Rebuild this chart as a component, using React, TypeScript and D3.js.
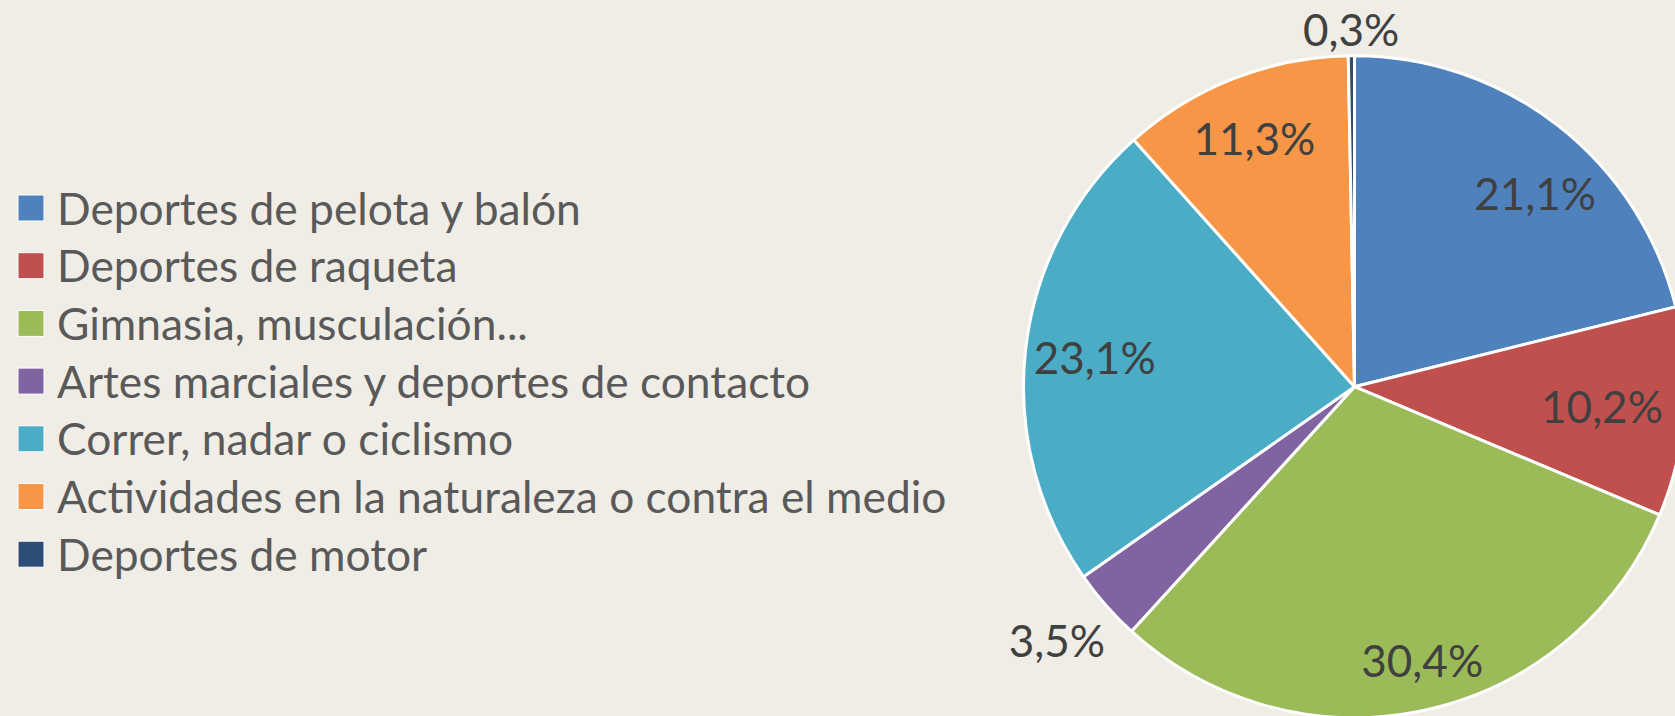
import React from "react";
import * as d3 from "d3";

const categories = [
  "Deportes de pelota y balón",
  "Deportes de raqueta",
  "Gimnasia, musculación...",
  "Artes marciales y deportes de contacto",
  "Correr, nadar o ciclismo",
  "Actividades en la naturaleza o contra el medio",
  "Deportes de motor",
];
const values = [21.1, 10.2, 30.4, 3.5, 23.1, 11.3, 0.3];
const colors = ["#4F81BD", "#C0504D", "#9BBB59", "#8064A2", "#4BACC6", "#F79646", "#2C4D75"];
const labelRadius = [0.8, 0.75, 0.85, 1.18, 0.79, 0.81, 1.08];
const labelNudgeDeg = [5, 0, -1.5, 1, 0, -0.5, 0];

const W = 1675;
const H = 716;
const BG = "#EFEDE5";
const FONT = "Lato, 'Open Sans', sans-serif";

export default function App() {
  if (typeof document !== "undefined") {
    document.body.style.margin = "0";
    document.body.style.background = BG;
  }
  const cx = 1354.5;
  const cy = 386.7;
  const R = 331;
  const pie = d3.pie<number>().sort(null).value((d) => d)(values);
  const arc = d3.arc<d3.PieArcDatum<number>>().innerRadius(0).outerRadius(R);
  const fmt = (v: number) => v.toFixed(1).replace(".", ",") + "%";

  const legendX = 18;
  const legendY0 = 207;
  const legendStep = 57.7;
  const sq = 26;

  return (
    <svg width={W} height={H} style={{ display: "block", background: BG }}>
      <rect width={W} height={H} fill={BG} />
      <g transform={`translate(${cx},${cy})`}>
        {pie.map((p, i) => (
          <path key={i} d={arc(p) || ""} fill={colors[i]} stroke="#FFFFFF" strokeWidth={3} strokeLinejoin="round" />
        ))}
        {pie.map((p, i) => {
          const a = (p.startAngle + p.endAngle) / 2 + (labelNudgeDeg[i] * Math.PI) / 180;
          const r = R * labelRadius[i];
          const x = r * Math.sin(a);
          const y = -r * Math.cos(a);
          return (
            <text key={i} x={x} y={y} textAnchor="middle" dominantBaseline="central" fontFamily={FONT} fontSize={44} fill="#404040">
              {fmt(values[i])}
            </text>
          );
        })}
      </g>
      <g>
        {categories.map((c, i) => {
          const y = legendY0 + i * legendStep;
          return (
            <g key={i}>
              <rect x={legendX} y={y - sq / 2 + 1} width={sq} height={sq} fill={colors[i]} stroke="#FFFFFF" strokeWidth={1} />
              <text x={57} y={y} dominantBaseline="central" fontFamily={FONT} fontSize={44.3} fill="#595959">
                {c}
              </text>
            </g>
          );
        })}
      </g>
    </svg>
  );
}
